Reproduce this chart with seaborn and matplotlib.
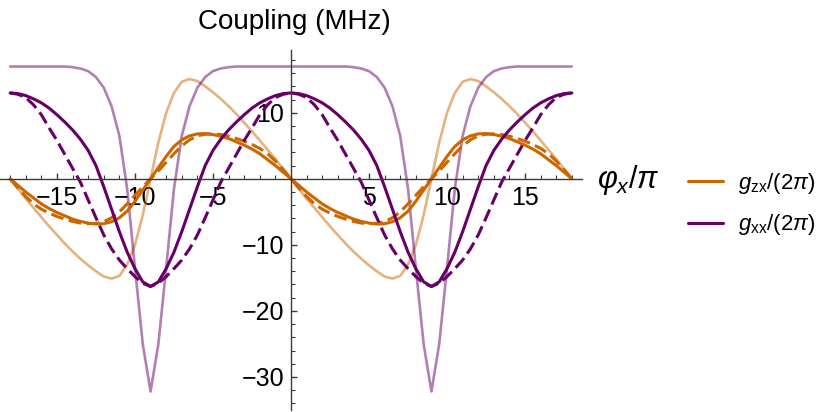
import numpy as np
import matplotlib
matplotlib.use("Agg")
import matplotlib.pyplot as plt
import seaborn as sns
from matplotlib.lines import Line2D
from matplotlib.ticker import MultipleLocator, FixedLocator

phi = np.arange(-18, 18.01, 0.5)

# g_zx / (2 pi), full model (faded)
gzx_full = [0, -1.5, -3.0, -4.4, -5.8, -7.2, -8.5, -9.8, -11.0, -12.1, -13.1, -14.0, -14.8, -15.1, -14.7, -13.0, -10.0, -5.5, 0,
            5.5, 10.0, 13.0, 14.7, 15.1, 14.8, 14.0, 13.1, 12.1, 11.0, 9.8, 8.5, 7.2, 5.8, 4.4, 3.0, 1.5, 0,
            -1.5, -3.0, -4.4, -5.8, -7.2, -8.5, -9.8, -11.0, -12.1, -13.1, -14.0, -14.8, -15.1, -14.7, -13.0, -10.0, -5.5, 0,
            5.5, 10.0, 13.0, 14.7, 15.1, 14.8, 14.0, 13.1, 12.1, 11.0, 9.8, 8.5, 7.2, 5.8, 4.4, 3.0, 1.5, 0]
# g_zx / (2 pi), solid
gzx = [0, -1.0, -2.0, -2.9, -3.8, -4.5, -5.1, -5.6, -6.1, -6.45, -6.7, -6.85, -6.8, -6.5, -5.9, -4.9, -3.4, -1.7, 0,
       1.7, 3.4, 4.9, 5.9, 6.5, 6.8, 6.85, 6.7, 6.45, 6.1, 5.6, 5.1, 4.5, 3.8, 2.9, 2.0, 1.0, 0,
       -1.0, -2.0, -2.9, -3.8, -4.5, -5.1, -5.6, -6.1, -6.45, -6.7, -6.85, -6.8, -6.5, -5.9, -4.9, -3.4, -1.7, 0,
       1.7, 3.4, 4.9, 5.9, 6.5, 6.8, 6.85, 6.7, 6.45, 6.1, 5.6, 5.1, 4.5, 3.8, 2.9, 2.0, 1.0, 0]
# g_zx / (2 pi), dashed
gzx_approx = [0, -1.4, -2.7, -3.8, -4.6, -5.2, -5.7, -6.1, -6.45, -6.7, -6.8, -6.75, -6.5, -5.9, -5.0, -3.8, -2.5, -1.2, 0,
              1.2, 2.5, 3.8, 5.0, 5.9, 6.5, 6.75, 6.8, 6.7, 6.45, 6.1, 5.7, 5.2, 4.6, 3.8, 2.7, 1.4, 0,
              -1.4, -2.7, -3.8, -4.6, -5.2, -5.7, -6.1, -6.45, -6.7, -6.8, -6.75, -6.5, -5.9, -5.0, -3.8, -2.5, -1.2, 0,
              1.2, 2.5, 3.8, 5.0, 5.9, 6.5, 6.75, 6.8, 6.7, 6.45, 6.1, 5.7, 5.2, 4.6, 3.8, 2.7, 1.4, 0]

# g_xx / (2 pi), full model (faded)
gxx_full = [17.0, 17.0, 17.0, 17.0, 17.0, 17.0, 17.0, 17.0, 16.9, 16.7, 16.3, 15.4, 13.8, 11.0, 6.5, -1.5, -13.5, -25.0, -32.2,
            -25.0, -13.5, -1.5, 6.5, 11.0, 13.8, 15.4, 16.3, 16.7, 16.9, 17.0, 17.0, 17.0, 17.0, 17.0, 17.0, 17.0, 17.0,
            17.0, 17.0, 17.0, 17.0, 17.0, 17.0, 17.0, 16.9, 16.7, 16.3, 15.4, 13.8, 11.0, 6.5, -1.5, -13.5, -25.0, -32.2,
            -25.0, -13.5, -1.5, 6.5, 11.0, 13.8, 15.4, 16.3, 16.7, 16.9, 17.0, 17.0, 17.0, 17.0, 17.0, 17.0, 17.0, 17.0]
# g_xx / (2 pi), solid
gxx = [13.0, 12.9, 12.6, 12.1, 11.5, 10.7, 9.7, 8.6, 7.4, 6.0, 4.3, 2.0, -1.2, -4.6, -8.0, -11.1, -13.6, -15.6, -16.3,
       -15.6, -13.6, -11.1, -8.0, -4.6, -1.2, 2.0, 4.3, 6.0, 7.4, 8.6, 9.7, 10.7, 11.5, 12.1, 12.6, 12.9, 13.0,
       12.9, 12.6, 12.1, 11.5, 10.7, 9.7, 8.6, 7.4, 6.0, 4.3, 2.0, -1.2, -4.6, -8.0, -11.1, -13.6, -15.6, -16.3,
       -15.6, -13.6, -11.1, -8.0, -4.6, -1.2, 2.0, 4.3, 6.0, 7.4, 8.6, 9.7, 10.7, 11.5, 12.1, 12.6, 12.9, 13.0]
# g_xx / (2 pi), dashed
gxx_approx = [13.0, 12.8, 12.3, 11.2, 9.7, 7.7, 5.8, 3.7, 1.6, -0.5, -3.2, -5.9, -8.5, -10.6, -12.3, -13.6, -14.8, -15.8, -16.3,
              -15.8, -14.8, -13.6, -12.3, -10.6, -8.5, -5.9, -3.2, -0.5, 1.6, 3.7, 5.8, 7.7, 9.7, 11.2, 12.3, 12.8, 13.0,
              12.8, 12.3, 11.2, 9.7, 7.7, 5.8, 3.7, 1.6, -0.5, -3.2, -5.9, -8.5, -10.6, -12.3, -13.6, -14.8, -15.8, -16.3,
              -15.8, -14.8, -13.6, -12.3, -10.6, -8.5, -5.9, -3.2, -0.5, 1.6, 3.7, 5.8, 7.7, 9.7, 11.2, 12.3, 12.8, 13.0]

x_ticks_major = [-15, -10, -5, 5, 10, 15]
y_ticks_major = [-30, -20, -10, 10]

orange = "#CC6600"
purple = "#660066"
axis_gray = "#3a3a3a"
dash = (0, (4.2, 1.8))

sns.set_style("white")
plt.rcParams["font.family"] = ["Liberation Sans", "DejaVu Sans"]
plt.rcParams["text.color"] = "black"
plt.rcParams["mathtext.fontset"] = "custom"
plt.rcParams["mathtext.rm"] = "Liberation Sans"
plt.rcParams["mathtext.it"] = "Liberation Sans:italic"
plt.rcParams["mathtext.bf"] = "Liberation Sans:bold"

fig = plt.figure(figsize=(8.3, 4.12), dpi=100)
ax = fig.add_axes([0, 2 / 412, 582 / 830, 360 / 412])

# faded curves behind
sns.lineplot(x=phi, y=gzx_full, color=orange, alpha=0.5, linewidth=1.9, ax=ax)
sns.lineplot(x=phi, y=gxx_full, color=purple, alpha=0.5, linewidth=1.9, ax=ax)
# dashed
sns.lineplot(x=phi, y=gzx_approx, color=orange, linewidth=2.2, linestyle=dash, ax=ax)
sns.lineplot(x=phi, y=gxx_approx, color=purple, linewidth=2.2, linestyle=dash, ax=ax)
# solid
sns.lineplot(x=phi, y=gzx, color=orange, linewidth=2.2, ax=ax)
sns.lineplot(x=phi, y=gxx, color=purple, linewidth=2.2, ax=ax)

ax.set_xlim(-18.65, 18.65)
ax.set_ylim(-35, 19.5)

# axes crossing at the origin
for side in ["top", "right"]:
    ax.spines[side].set_visible(False)
ax.spines["left"].set_position("zero")
ax.spines["bottom"].set_position("zero")
for side in ["left", "bottom"]:
    ax.spines[side].set_color(axis_gray)
    ax.spines[side].set_linewidth(1.0)

ax.xaxis.set_major_locator(FixedLocator(x_ticks_major))
ax.xaxis.set_minor_locator(MultipleLocator(1))
ax.yaxis.set_major_locator(FixedLocator(y_ticks_major))
ax.yaxis.set_minor_locator(MultipleLocator(2))
ax.tick_params(axis="both", which="both", direction="in", color=axis_gray,
               labelcolor="black", labelsize=18, pad=5,
               bottom=True, left=True, top=False, right=False)
ax.tick_params(axis="both", which="major", length=4.6, width=1.0)
ax.tick_params(axis="both", which="minor", length=3.0, width=0.8)
ax.set_xlabel("")
ax.set_ylabel("")

fig.text(294 / 830, 1 - 22 / 412, "Coupling (MHz)", ha="center", va="center",
         fontsize=20, color="black")
fig.text(597 / 830, 1 - 180 / 412, r"$\varphi_x/\pi$", ha="left", va="center",
         fontsize=22, color="black")

handles = [Line2D([], [], color=orange, linewidth=2.2),
           Line2D([], [], color=purple, linewidth=2.2)]
labels = [r"$g_{\mathrm{zx}}/(2\pi)$", r"$g_{\mathrm{xx}}/(2\pi)$"]
leg = ax.legend(handles, labels, loc="center left", bbox_to_anchor=(688 / 830, 1 - 204 / 412),
                bbox_transform=fig.transFigure, frameon=False, fontsize=16,
                handlelength=1.58, handletextpad=0.68, labelspacing=0.75,
                borderpad=0, borderaxespad=0)
for t in leg.get_texts():
    t.set_color("black")

fig.savefig("out.png", dpi=100)
